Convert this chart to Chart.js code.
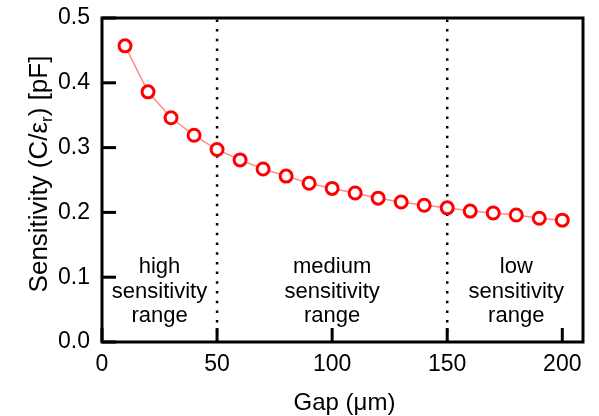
<!DOCTYPE html>
<html>
<head>
<meta charset="utf-8">
<script src="https://cdn.jsdelivr.net/npm/chart.js@4.4.0/dist/chart.umd.min.js"></script>
<style>
  html, body { margin: 0; padding: 0; background: #fff; }
  #wrap { width: 599px; height: 416px; }
</style>
</head>
<body>
<div id="wrap"><canvas id="chart" width="599" height="416"></canvas></div>
<script>
const gap = [10, 20, 30, 40, 50, 60, 70, 80, 90, 100, 110, 120, 130, 140, 150, 160, 170, 180, 190, 200];
const sensitivity = [0.457, 0.386, 0.346, 0.319, 0.297, 0.281, 0.267, 0.256, 0.245, 0.237, 0.230, 0.222, 0.216, 0.211, 0.207, 0.202, 0.199, 0.196, 0.191, 0.188];
const xTicks = [0, 50, 100, 150, 200];
const yTicks = [0, 0.1, 0.2, 0.3, 0.4, 0.5];
const dividers = [50, 150];
const rangeNames = [['high', 'sensitivity', 'range'], ['medium', 'sensitivity', 'range'], ['low', 'sensitivity', 'range']];
const rangeCenters = [25, 100, 180];

const FONT = 'Arial, "Liberation Sans", Helvetica, sans-serif';

function dividerSet(x) {
  return {
    data: [{ x: x, y: 0 }, { x: x, y: 0.5 }],
    borderColor: '#000',
    borderWidth: 2.5,
    borderDash: [2.5, 7.2],
    pointRadius: 0,
    fill: false
  };
}

const frame = {
  id: 'frame',
  afterDraw(chart) {
    const ctx = chart.ctx;
    const a = chart.chartArea;
    const xs = chart.scales.x, ys = chart.scales.y;
    ctx.save();
    ctx.setLineDash([]);
    ctx.strokeStyle = '#000';
    ctx.lineWidth = 3;
    ctx.strokeRect(a.left, a.top, a.right - a.left, a.bottom - a.top);
    // inward ticks
    ctx.fillStyle = '#000';
    xTicks.forEach(v => {
      const px = xs.getPixelForValue(v);
      ctx.fillRect(px - 1.5, a.bottom - 14, 3, 14);
    });
    yTicks.forEach(v => {
      const py = ys.getPixelForValue(v);
      ctx.fillRect(a.left, py - 1.5, 14, 3);
    });

    // range annotations
    ctx.font = '22px ' + FONT;
    ctx.textAlign = 'center';
    ctx.textBaseline = 'alphabetic';
    rangeNames.forEach((lines, i) => {
      const px = xs.getPixelForValue(rangeCenters[i]);
      lines.forEach((t, j) => ctx.fillText(t, px, 273 + j * 24.5));
    });

    // x title
    ctx.font = '24px ' + FONT;
    ctx.fillText('Gap (\u03bcm)', (a.left + a.right) / 2 + 2, 410);

    // y title with subscript
    ctx.translate(47, 174);
    ctx.rotate(-Math.PI / 2);
    const big = '26px ' + FONT, small = '17px ' + FONT;
    const p1 = 'Sensitivity (C/\u03b5', p2 = 'r', p3 = ') [pF]';
    ctx.font = big; const w1 = ctx.measureText(p1).width, w3 = ctx.measureText(p3).width;
    ctx.font = small; const w2 = ctx.measureText(p2).width;
    let x0 = -(w1 + w2 + w3) / 2;
    ctx.textAlign = 'left';
    ctx.font = big; ctx.fillText(p1, x0, 0);
    ctx.font = small; ctx.fillText(p2, x0 + w1, 5);
    ctx.font = big; ctx.fillText(p3, x0 + w1 + w2, 0);
    ctx.restore();
  }
};

new Chart(document.getElementById('chart'), {
  type: 'line',
  data: {
    datasets: [
      {
        data: gap.map((g, i) => ({ x: g, y: sensitivity[i] })),
        borderColor: '#ff8a8a',
        borderWidth: 1.5,
        tension: 0,
        pointRadius: 6,
        pointBorderWidth: 3,
        pointBorderColor: '#ff0000',
        pointBackgroundColor: '#ffffff'
      },
      dividerSet(dividers[0]),
      dividerSet(dividers[1])
    ]
  },
  options: {
    responsive: false,
    animation: false,
    devicePixelRatio: 1,
    layout: { padding: { left: 0, right: 16, top: 18, bottom: 0 } },
    plugins: { legend: { display: false }, tooltip: { enabled: false } },
    scales: {
      x: {
        type: 'linear',
        min: 0,
        max: 209,
        afterBuildTicks: s => { s.ticks = xTicks.map(v => ({ value: v })); },
        afterFit: s => { s.height = 74; },
        ticks: { color: '#000', font: { size: 23, family: FONT }, padding: 1, maxRotation: 0 },
        grid: { display: false },
        border: { display: false }
      },
      y: {
        min: 0,
        max: 0.5,
        afterBuildTicks: s => { s.ticks = yTicks.map(v => ({ value: v })); },
        afterFit: s => { s.width = 102; },
        ticks: { color: '#000', font: { size: 23, family: FONT }, padding: 4, callback: v => v.toFixed(1) },
        grid: { display: false },
        border: { display: false }
      }
    }
  },
  plugins: [frame]
});
</script>
</body>
</html>
